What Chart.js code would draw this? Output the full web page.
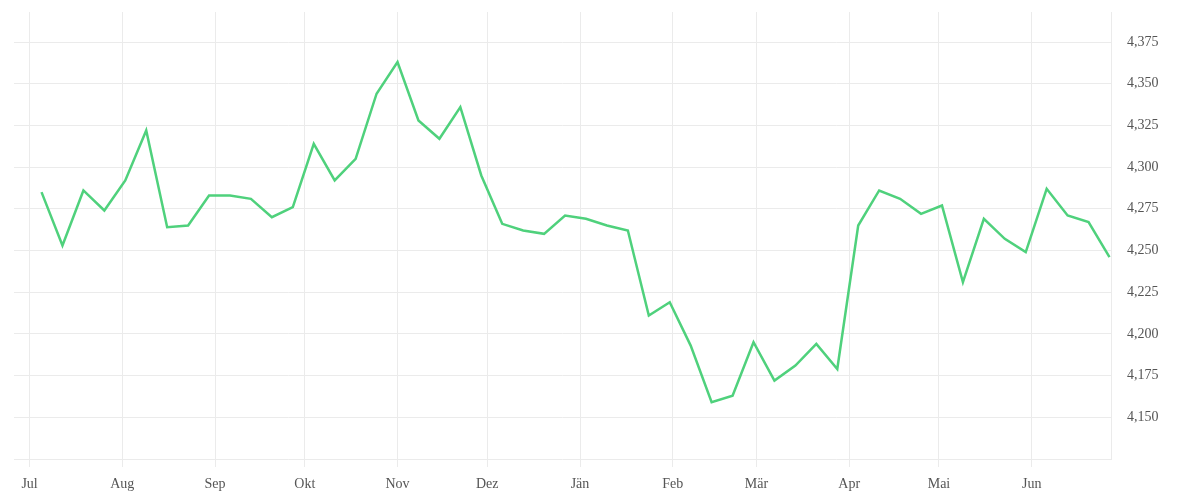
<!DOCTYPE html>
<html>
<head>
<meta charset="utf-8">
<script src="https://cdn.jsdelivr.net/npm/chart.js@4"></script>
<style>
  html, body { margin: 0; padding: 0; background: #ffffff; }
  #wrap { width: 1200px; height: 500px; }
</style>
</head>
<body>
<div id="wrap"><canvas id="c" width="1200" height="500"></canvas></div>
<script>
// ---- data ----
const weekDates = [
  '2018-07-05','2018-07-12','2018-07-19','2018-07-26','2018-08-02','2018-08-09','2018-08-16','2018-08-23','2018-08-30',
  '2018-09-06','2018-09-13','2018-09-20','2018-09-27','2018-10-04','2018-10-11','2018-10-18','2018-10-25',
  '2018-11-01','2018-11-08','2018-11-15','2018-11-22','2018-11-29','2018-12-06','2018-12-13','2018-12-20','2018-12-27',
  '2019-01-03','2019-01-10','2019-01-17','2019-01-24','2019-01-31','2019-02-07','2019-02-14','2019-02-21','2019-02-28',
  '2019-03-07','2019-03-14','2019-03-21','2019-03-28','2019-04-04','2019-04-11','2019-04-18','2019-04-25',
  '2019-05-02','2019-05-09','2019-05-16','2019-05-23','2019-05-30','2019-06-06','2019-06-13','2019-06-20','2019-06-27'
];
const values = [
  4.285, 4.253, 4.286, 4.274, 4.292, 4.322, 4.264, 4.265, 4.283,
  4.283, 4.281, 4.270, 4.276, 4.314, 4.292, 4.305, 4.344,
  4.363, 4.328, 4.317, 4.336, 4.295, 4.266, 4.262, 4.260, 4.271,
  4.269, 4.265, 4.262, 4.211, 4.219, 4.193, 4.159, 4.163, 4.195,
  4.172, 4.181, 4.194, 4.179, 4.265, 4.286, 4.281, 4.272,
  4.277, 4.231, 4.269, 4.257, 4.249, 4.287, 4.271, 4.267, 4.246
];
const monthStarts = ['2018-07-01','2018-08-01','2018-09-01','2018-10-01','2018-11-01','2018-12-01',
                     '2019-01-01','2019-02-01','2019-03-01','2019-04-01','2019-05-01','2019-06-01'];
const monthLabels = ['Jul','Aug','Sep','Okt','Nov','Dez','Jän','Feb','Mär','Apr','Mai','Jun'];
const yTickValues = [4.125, 4.150, 4.175, 4.200, 4.225, 4.250, 4.275, 4.300, 4.325, 4.350, 4.375];
const axisStart = '2018-06-25';
const axisEnd = '2019-06-27';
const yMin = 4.125, yMax = 4.393;

// ---- helpers ----
const origin = Date.UTC(2018, 6, 1);
function dayOf(s) {
  const p = s.split('-').map(Number);
  return (Date.UTC(p[0], p[1] - 1, p[2]) - origin) / 86400000;
}
const points = weekDates.map((d, i) => ({ x: dayOf(d), y: values[i] }));
const monthDays = monthStarts.map(dayOf);

const FONT = { family: '"Liberation Serif", "DejaVu Serif", serif', size: 14 };
const GRID = '#ebebeb';

new Chart(document.getElementById('c'), {
  type: 'line',
  data: {
    datasets: [{
      data: points,
      borderColor: '#4fd17c',
      borderWidth: 2.5,
      pointRadius: 0,
      pointHoverRadius: 0,
      tension: 0,
      fill: false
    }]
  },
  options: {
    responsive: false,
    animation: false,
    devicePixelRatio: 1,
    layout: { padding: { left: 14, top: 12, right: 0, bottom: 0 } },
    plugins: { legend: { display: false }, tooltip: { enabled: false } },
    scales: {
      x: {
        type: 'linear',
        min: dayOf(axisStart) + 0.8,
        max: dayOf(axisEnd) + 0.5,
        afterBuildTicks: (s) => { s.ticks = monthDays.map(v => ({ value: v })); },
        afterFit: (s) => { s.height = 41; s.paddingLeft = 0; s.paddingRight = 0; },
        ticks: {
          autoSkip: false,
          maxRotation: 0,
          padding: 9,
          color: '#555',
          font: FONT,
          callback: (v) => { const i = monthDays.indexOf(v); return i >= 0 ? monthLabels[i] : ''; }
        },
        grid: { color: GRID, lineWidth: 1, tickLength: 8, drawTicks: true },
        border: { display: false }
      },
      y: {
        type: 'linear',
        position: 'right',
        min: yMin,
        max: yMax,
        afterBuildTicks: (s) => { s.ticks = yTickValues.map(v => ({ value: v })); },
        afterFit: (s) => { s.width = 89; s.paddingTop = 0; s.paddingBottom = 0; },
        ticks: {
          padding: 16,
          color: '#555',
          font: FONT,
          crossAlign: 'near',
          callback: (v) => (Math.abs(v - 4.125) < 1e-6 ? '' : v.toFixed(3).replace('.', ','))
        },
        grid: { color: GRID, lineWidth: 1, drawTicks: false },
        border: { display: true, color: GRID }
      }
    }
  }
});
</script>
</body>
</html>
